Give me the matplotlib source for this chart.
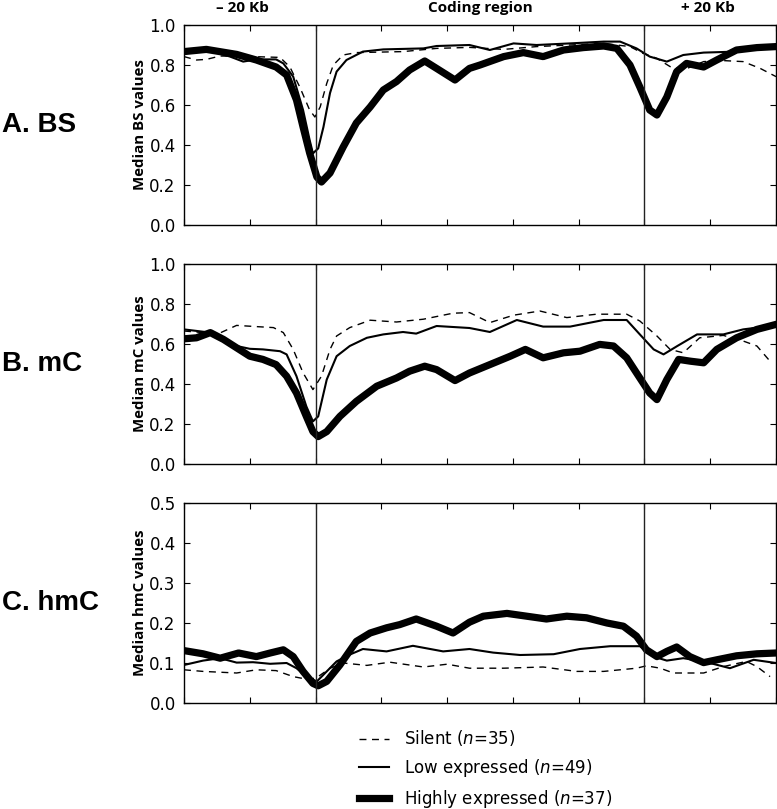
import matplotlib
matplotlib.use("Agg")
import matplotlib.pyplot as plt

# --- dados (x: 0-20 = -20 Kb, 20-70 = região codificante, 70-90 = +20 Kb) ---
bs_silent_x = [0, 1.9, 3.4, 5.5, 10.5, 14.6, 16.1, 17.6, 19.1, 19.9, 20.7, 21.7, 22.7, 24.2, 26.2, 33.3,
               38.4, 43.4, 48.6, 53.6, 58.7, 63.8, 67.8, 69.8, 71.9, 73.9, 75.9, 79, 82, 85, 87.6, 90]
bs_silent_y = [0.842, 0.825, 0.828, 0.845, 0.842, 0.838, 0.79, 0.69, 0.575, 0.54, 0.59, 0.708, 0.80, 0.85,
               0.862, 0.867, 0.883, 0.888, 0.878, 0.892, 0.9, 0.908, 0.892, 0.858, 0.833, 0.792, 0.775,
               0.817, 0.822, 0.817, 0.783, 0.742]
bs_low_x = [0, 3.4, 7, 9, 11, 14, 15.1, 16.6, 18.1, 19.1, 19.6, 20.4, 21.2, 22.2, 23.2, 24.7, 27.2, 30.3,
            36.4, 38.4, 43.4, 46.5, 50.1, 53.6, 58.7, 63.8, 66.3, 68.8, 70.8, 73.4, 75.9, 79, 84, 90]
bs_low_y = [0.875, 0.878, 0.842, 0.817, 0.828, 0.828, 0.808, 0.742, 0.575, 0.425, 0.358, 0.383, 0.49, 0.66,
            0.767, 0.825, 0.867, 0.878, 0.883, 0.895, 0.9, 0.875, 0.908, 0.9, 0.908, 0.917, 0.917, 0.883,
            0.842, 0.817, 0.85, 0.862, 0.867, 0.892]
bs_high_x = [0, 3.4, 8, 11, 14, 15.6, 17.1, 18.1, 19.1, 20.2, 20.9, 22.2, 24.2, 26.2, 28.3, 30.3, 32.3,
             34.3, 36.6, 38.4, 41.2, 43.4, 45, 48.6, 51.6, 54.6, 57.7, 60.7, 63.8, 65.8, 67.8, 69.3, 70.8,
             71.9, 73.4, 74.9, 76.4, 79, 81, 84, 87.1, 90]
bs_high_y = [0.867, 0.878, 0.853, 0.825, 0.79, 0.75, 0.625, 0.49, 0.36, 0.24, 0.215, 0.26, 0.39, 0.51,
             0.59, 0.675, 0.717, 0.775, 0.82, 0.783, 0.725, 0.783, 0.80, 0.842, 0.862, 0.842, 0.875, 0.887,
             0.895, 0.883, 0.80, 0.69, 0.575, 0.55, 0.64, 0.767, 0.808, 0.79, 0.825, 0.875, 0.887, 0.892]

mc_silent_x = [0, 2.9, 5, 8, 11, 13.6, 15.1, 16.6, 18.1, 19.6, 20.9, 22.2, 23.2, 25.2, 28.3, 32.3, 36.4,
               40.9, 43.4, 46.5, 50.1, 54.1, 58.2, 62.7, 67.3, 69.3, 71.9, 73.9, 75.9, 78.4, 82, 85, 87.1, 89.3]
mc_silent_y = [0.665, 0.657, 0.648, 0.693, 0.687, 0.682, 0.657, 0.573, 0.456, 0.372, 0.439, 0.573, 0.64,
               0.682, 0.719, 0.71, 0.724, 0.754, 0.757, 0.707, 0.744, 0.765, 0.732, 0.749, 0.749, 0.715,
               0.64, 0.573, 0.556, 0.631, 0.643, 0.615, 0.59, 0.506]
mc_low_x = [0, 4, 6, 8, 10, 12, 14.6, 15.6, 17.1, 18.6, 19.6, 20.4, 21.7, 23.2, 25.2, 27.8, 30.3, 33.3,
            35.3, 38.4, 43.4, 46.5, 50.6, 54.6, 58.7, 63.8, 67.3, 69.3, 71.4, 72.9, 75, 78, 82, 85, 90]
mc_low_y = [0.673, 0.657, 0.631, 0.59, 0.576, 0.573, 0.564, 0.548, 0.439, 0.288, 0.213, 0.238, 0.422,
            0.539, 0.59, 0.631, 0.648, 0.66, 0.652, 0.69, 0.68, 0.66, 0.72, 0.687, 0.687, 0.72, 0.72,
            0.648, 0.573, 0.548, 0.59, 0.648, 0.648, 0.673, 0.694]
mc_high_x = [0, 1.9, 4, 6, 8, 10, 12, 14, 15.6, 17.1, 18.6, 19.6, 20.4, 21.7, 23.7, 26.2, 29.3, 32.3,
             34.3, 36.6, 38.4, 41.2, 43.4, 46.5, 49.6, 51.9, 54.6, 57.7, 60.2, 63.2, 65.3, 67.3, 69.3,
             70.8, 71.9, 73.4, 75.2, 77, 79, 81, 84, 87.1, 90]
mc_high_y = [0.626, 0.631, 0.657, 0.623, 0.581, 0.539, 0.523, 0.497, 0.439, 0.355, 0.238, 0.162, 0.137,
             0.162, 0.238, 0.313, 0.389, 0.43, 0.464, 0.489, 0.472, 0.417, 0.455, 0.497, 0.539, 0.573,
             0.531, 0.556, 0.564, 0.598, 0.59, 0.531, 0.43, 0.355, 0.322, 0.422, 0.523, 0.514, 0.506,
             0.573, 0.631, 0.673, 0.698]

hmc_silent_x = [0, 2.9, 8, 11, 14, 16.6, 19.1, 20.4, 22.2, 24.2, 27.8, 31.3, 36.4, 40, 43.4, 48.6, 54.6,
                59.7, 63.8, 68.8, 70.3, 72.4, 74.4, 79, 82, 85.5, 87.1, 89.1]
hmc_silent_y = [0.083, 0.079, 0.075, 0.083, 0.081, 0.066, 0.058, 0.066, 0.087, 0.1, 0.094, 0.102, 0.09,
                0.097, 0.087, 0.087, 0.09, 0.079, 0.079, 0.087, 0.093, 0.087, 0.075, 0.075, 0.091, 0.104,
                0.091, 0.066]
hmc_low_x = [0, 2.9, 5.5, 8, 10.5, 13.1, 15.6, 17.1, 18.6, 20.2, 21.7, 23.2, 25.2, 27.2, 30.8, 34.8, 39.4,
             43.4, 47, 51.1, 56.2, 60.2, 64.8, 69.3, 71.4, 73.4, 75.9, 79, 83, 86.6, 90]
hmc_low_y = [0.095, 0.106, 0.112, 0.101, 0.102, 0.098, 0.1, 0.087, 0.066, 0.054, 0.079, 0.104, 0.121,
             0.135, 0.129, 0.143, 0.129, 0.135, 0.126, 0.12, 0.122, 0.135, 0.142, 0.142, 0.116, 0.106,
             0.112, 0.104, 0.087, 0.108, 0.1]
hmc_high_x = [0, 2.9, 5.5, 8.3, 11, 13.1, 15.1, 16.6, 18.1, 19.6, 20.4, 21.7, 23.7, 26.2, 28.3, 30.8,
              32.8, 35.3, 38.4, 40.9, 43.4, 45.5, 49.1, 52.1, 55.1, 58.2, 61.2, 64.3, 66.8, 68.8, 70.3,
              71.9, 73.4, 74.9, 76.9, 79, 81, 84, 87.1, 90]
hmc_high_y = [0.131, 0.123, 0.112, 0.125, 0.116, 0.125, 0.133, 0.116, 0.079, 0.049, 0.043, 0.054, 0.095,
              0.154, 0.175, 0.188, 0.196, 0.21, 0.192, 0.175, 0.202, 0.217, 0.224, 0.217, 0.21, 0.217,
              0.213, 0.2, 0.192, 0.167, 0.133, 0.116, 0.129, 0.14, 0.116, 0.101, 0.108, 0.118, 0.123, 0.125]

paineis = [
    ("A. BS", "Median BS values", 1.0, 0.2,
     (bs_silent_x, bs_silent_y), (bs_low_x, bs_low_y), (bs_high_x, bs_high_y)),
    ("B. mC", "Median mC values", 1.0, 0.2,
     (mc_silent_x, mc_silent_y), (mc_low_x, mc_low_y), (mc_high_x, mc_high_y)),
    ("C. hmC", "Median hmC values", 0.5, 0.1,
     (hmc_silent_x, hmc_silent_y), (hmc_low_x, hmc_low_y), (hmc_high_x, hmc_high_y)),
]
legendas = ["Silent ($n$=35)", "Low expressed ($n$=49)", "Highly expressed ($n$=37)"]
limites = [20, 70]

fig = plt.figure(figsize=(7.77, 8.09), dpi=100)
W, H = 777, 809
fundos = [225, 464, 703]
linhas = []

for i, (letra, rotulo, ymax, passo, sil, low, high) in enumerate(paineis):
    ax = fig.add_axes([184 / W, (H - fundos[i]) / H, 592 / W, 200 / H])
    l1, = ax.plot(sil[0], sil[1], color="black", lw=1.0, dashes=(5, 4))
    l2, = ax.plot(low[0], low[1], color="black", lw=1.5)
    l3, = ax.plot(high[0], high[1], color="black", lw=5.2, solid_joinstyle="round")
    for b in limites:
        ax.axvline(b, color="#222222", lw=1.0)
    ax.set_xlim(0, 90)
    ax.set_ylim(0, ymax)
    ax.set_xticks(range(0, 91, 10))
    ax.set_xticklabels([])
    n = int(round(ymax / passo))
    ax.set_yticks([k * passo for k in range(n + 1)])
    ax.set_yticklabels([f"{k * passo:.1f}" for k in range(n + 1)])
    ax.tick_params(direction="in", top=True, right=True, length=4, width=0.8,
                   labelsize=12, pad=6)
    for s in ax.spines.values():
        s.set_linewidth(1.0)
    ax.set_ylabel(rotulo, family="Open Sans", fontweight="bold", fontsize=10.8, va="center")
    ax.yaxis.set_label_coords(-0.074, 0.5)
    fig.text(0.003, (H - fundos[i] + 100) / H, letra, family="Liberation Sans",
             fontweight="bold", fontsize=20, ha="left", va="center")
    if i == 0:
        linhas = [l1, l2, l3]
        tr = ax.get_xaxis_transform()
        for xt, txt in [(8.8, "– 20 Kb"), (45, "Coding region"), (79.7, "+ 20 Kb")]:
            ax.text(xt, 1.085, txt, transform=tr, ha="center", va="center",
                    family="Open Sans", fontweight="bold", fontsize=11)

fig.legend(linhas, legendas, loc="center", bbox_to_anchor=(486 / W, 40 / H),
           frameon=False, fontsize=12, handlelength=1.8, handletextpad=0.9,
           labelspacing=0.52, borderpad=0)

fig.savefig("out.png", dpi=100)
